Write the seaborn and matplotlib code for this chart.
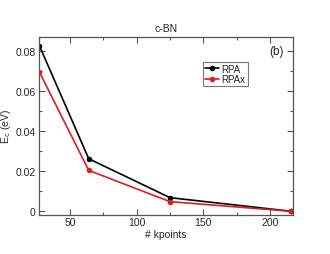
import matplotlib
matplotlib.use("Agg")
import matplotlib.pyplot as plt
import seaborn as sns
import pandas as pd
from matplotlib.ticker import MultipleLocator, FuncFormatter

kpoints = [27, 64, 125, 216]
rpa = [0.0825, 0.0262, 0.0068, 0.0]
rpax = [0.0694, 0.0204, 0.0048, 0.0]
series_names = ["RPA", "RPAx"]
colors = ["black", "#e31a1c"]

df = pd.concat([
    pd.DataFrame({"kpoints": kpoints, "Ec": rpa, "method": "RPA"}),
    pd.DataFrame({"kpoints": kpoints, "Ec": rpax, "method": "RPAx"}),
])

sns.set_style("ticks")
plt.rcParams['font.family'] = ['Liberation Sans', 'DejaVu Sans']

fig = plt.figure(figsize=(3.3, 2.55), dpi=100)
ax = fig.add_axes([38.5/330, 1 - 215.7/255, (293-38.5)/330, (215.7-38)/255])

sns.lineplot(data=df, x="kpoints", y="Ec", hue="method", hue_order=series_names,
             palette=colors, marker="o", markersize=4, markeredgewidth=0,
             linewidth=1.2, ax=ax)

ax.set_xlim(26.3, 217.3)
ax.set_ylim(-0.0017, 0.0869)
ax.xaxis.set_major_locator(MultipleLocator(50))
ax.xaxis.set_minor_locator(MultipleLocator(25))
ax.yaxis.set_major_locator(MultipleLocator(0.02))
ax.yaxis.set_minor_locator(MultipleLocator(0.01))
ax.yaxis.set_major_formatter(FuncFormatter(lambda v, p: "0" if abs(v) < 1e-9 else f"{v:.2f}"))

ax.tick_params(which="both", direction="in", top=True, right=True, labelsize=7.5, color="#555555", pad=2)
ax.tick_params(which="major", length=4, width=0.8)
ax.tick_params(which="minor", length=2, width=0.8)
for s in ax.spines.values():
    s.set_color("#555555")
    s.set_linewidth(0.9)

ax.set_xlabel("# kpoints", fontsize=7.5, labelpad=1)
ax.set_ylabel("E$_{\\rm c}$ (eV)", fontsize=7.5, labelpad=2)
ax.set_title("c-BN", fontsize=7.5, pad=4)
ax.text(0.965, 0.92, "(b)", transform=ax.transAxes, ha="right", va="center", fontsize=8.5)

leg = ax.legend(loc="upper left", bbox_to_anchor=(0.647, 0.86), fontsize=7, frameon=True,
                fancybox=False, handlelength=1.4, handletextpad=0.3, borderpad=0.2,
                labelspacing=0.05, borderaxespad=0)
leg.get_frame().set_edgecolor("#555555")
leg.get_frame().set_linewidth(0.8)

fig.savefig("out.png", dpi=100)
